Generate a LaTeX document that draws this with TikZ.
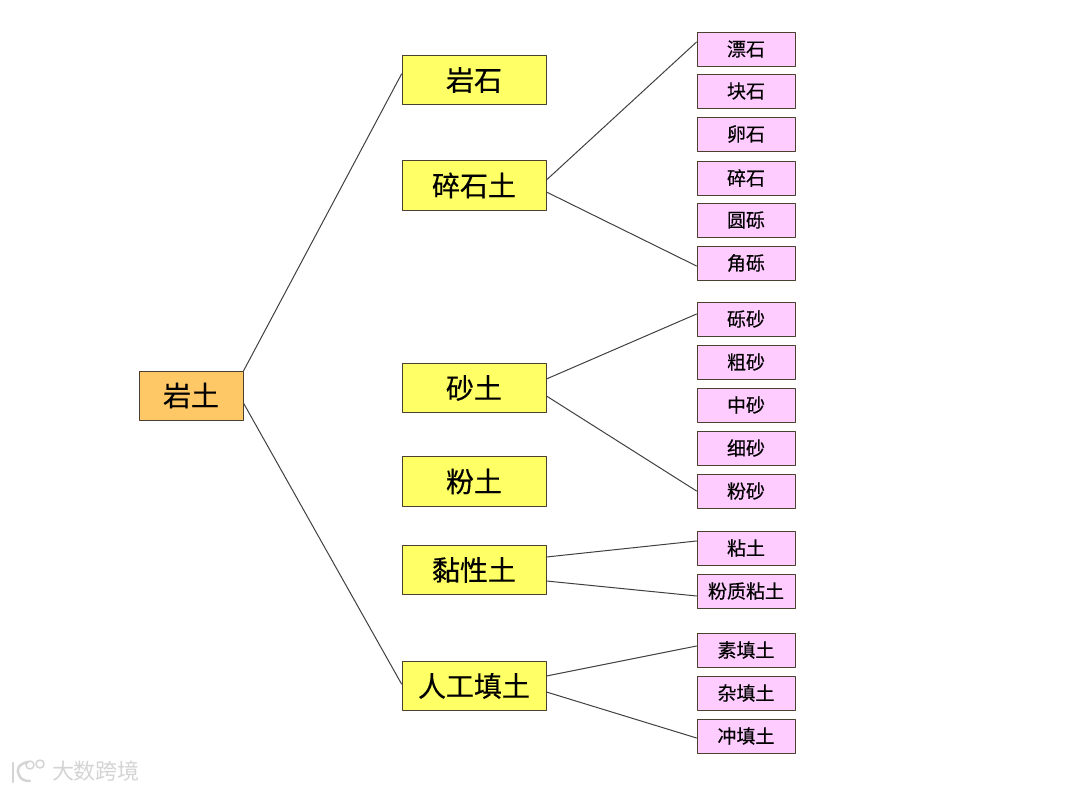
\documentclass[tikz,border=0pt]{standalone}
\usepackage{fontspec}
\newfontfamily\cjk[FakeBold=0.35]{Noto Sans CJK SC}
\newfontfamily\cjkmark{Noto Sans CJK SC}
\usetikzlibrary{positioning}
\definecolor{rootfill}{HTML}{FFC866}
\definecolor{yellowfill}{HTML}{FFFF66}
\definecolor{pinkfill}{HTML}{FFCCFF}
\definecolor{boxline}{HTML}{4A4030}
\definecolor{markgray}{HTML}{D4D4D4}
\tikzset{
    rootbox/.style={draw=boxline, fill=rootfill, line width=0.9pt, minimum width=104pt, minimum height=49pt, inner sep=0pt, font=\cjk\fontsize{28}{28}\selectfont},
    classbox/.style={draw=boxline, fill=yellowfill, line width=0.9pt, minimum width=144pt, minimum height=49.5pt, inner sep=0pt, font=\cjk\fontsize{28}{28}\selectfont},
    typebox/.style={draw=boxline, fill=pinkfill, line width=0.9pt, minimum width=98pt, minimum height=34pt, inner sep=0pt, font=\cjk\fontsize{19}{19}\selectfont},
    link/.style={draw=black!75, line width=1pt}
}
\begin{document}
\begin{tikzpicture}[x=1pt, y=-1pt, line cap=round, line join=round]
        \useasboundingbox (0,0) rectangle (1080,791);

        % root
        \node[rootbox] (yantu) at (191,395.5) {岩土};

        % classes
        \node[classbox] (yanshi) at (474,80) {岩石};
        \node[classbox] (suishitu) at (474,185.5) {碎石土};
        \node[classbox] (shatu) at (474,388) {砂土};
        \node[classbox] (fentu) at (474,481.5) {粉土};
        \node[classbox] (niantu) at (474,570) {黏性土};
        \node[classbox] (tiantu) at (474,686) {人工填土};

        % types
        \foreach \name/\ypos/\label in {piaoshi/49/漂石, kuaishi/91/块石, luanshi/134/卵石, suishi/178/碎石, yuanli/220/圆砾, jiaoli/263/角砾,
            lisha/319/砾砂, cusha/362/粗砂, zhongsha/405/中砂, xisha/448/细砂, fensha/491/粉砂,
            nian/548/粘土, fenzhi/591/粉质粘土,
            sutian/650/素填土, zatian/693/杂填土, chongtian/736/冲填土}
            \node[typebox] (\name) at (746,\ypos) {\label};

        % root to classes
        \draw[link] ([yshift=24.5pt]yantu.east) -- ([yshift=6pt]yanshi.west);
        \draw[link] ([yshift=-7.5pt]yantu.east) -- ([yshift=2pt]tiantu.west);

        % classes to types
        \draw[link] ([yshift=5.5pt]suishitu.east) -- ([yshift=7pt]piaoshi.west);
        \draw[link] ([yshift=-6.5pt]suishitu.east) -- ([yshift=-3pt]jiaoli.west);
        \draw[link] ([yshift=9pt]shatu.east) -- ([yshift=5pt]lisha.west);
        \draw[link] ([yshift=-8pt]shatu.east) -- (fensha.west);
        \draw[link] ([yshift=13pt]niantu.east) -- ([yshift=7pt]nian.west);
        \draw[link] ([yshift=-11pt]niantu.east) -- ([yshift=-5pt]fenzhi.west);
        \draw[link] ([yshift=10pt]tiantu.east) -- ([yshift=4pt]sutian.west);
        \draw[link] ([yshift=-6pt]tiantu.east) -- ([yshift=-2pt]chongtian.west);

        % watermark
        \node[text=markgray, font=\cjkmark\fontsize{22}{22}\selectfont, inner sep=0pt] (mark) at (96,771) {大数跨境};
        \draw[markgray, line width=2.5pt] (13,763) -- (13,782);
        \draw[markgray, line width=2.5pt] (28,762) .. controls (18,764) and (16,770) .. (19,775) .. controls (21,780) and (25,781) .. (30,781);
        \draw[markgray, line width=1.5pt] (30,765) circle (4);
        \draw[markgray, line width=1.5pt] (40,764) circle (4);
    \end{tikzpicture}
\end{document}
